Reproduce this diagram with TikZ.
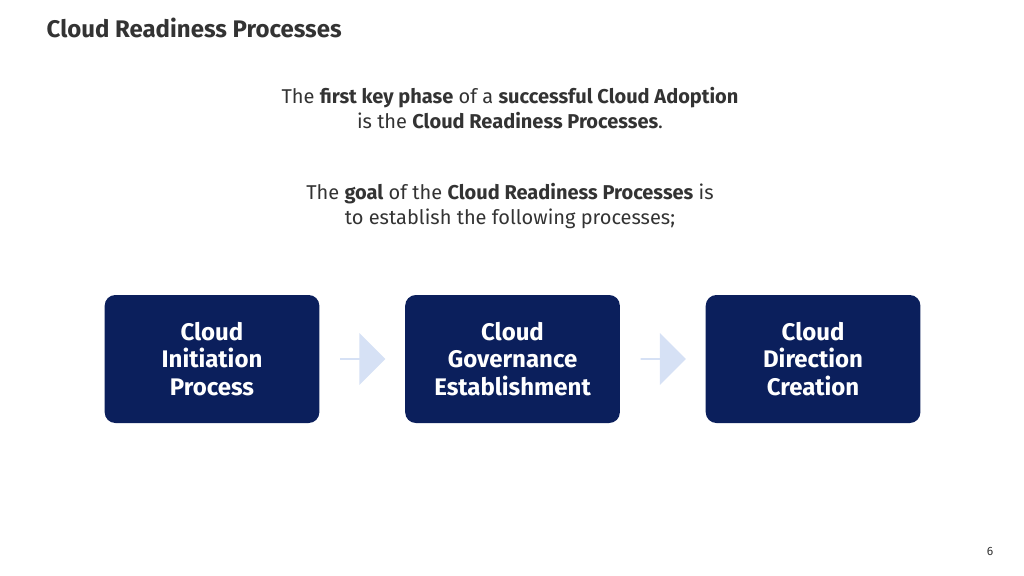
\documentclass[tikz,border=0pt]{standalone}
\usepackage{fontspec}
\setmainfont{Fira Sans}
\usetikzlibrary{shapes,arrows,positioning,calc}
\definecolor{navy}{HTML}{0B1F5C}
\definecolor{paleblue}{HTML}{D6E1F5}
\definecolor{txtgray}{HTML}{333333}
\begin{document}
\begin{tikzpicture}[
    x=0.75pt, y=-0.75pt,
    phase/.style={
        rectangle,
        rounded corners=8pt,
        fill=navy,
        text=white,
        font=\fontsize{18}{20.5}\selectfont\bfseries,
        align=center,
        minimum width=161pt,
        minimum height=96pt
    },
    link/.style={
        single arrow,
        fill=paleblue,
        minimum width=39pt,
        single arrow head extend=6pt,
        minimum height=34pt,
        inner sep=0pt
    },
    node distance=64pt
]
    \useasboundingbox (0,0) rectangle (1024,575);

    % Title and intro text
    \node[anchor=west, text=txtgray, font=\fontsize{18}{22}\selectfont\bfseries] (title) at (42,28) {Cloud Readiness Processes};
    \node[align=center, text=txtgray, font=\fontsize{15}{19}\selectfont] (intro) at (510,108)
        {The \textbf{first key phase} of a \textbf{successful Cloud Adoption}\\is the \textbf{Cloud Readiness Processes}.};
    \node[align=center, text=txtgray, font=\fontsize{15}{19}\selectfont] (goal) at (510,206)
        {The \textbf{goal} of the \textbf{Cloud Readiness Processes} is\\to establish the following processes;};

    % Process steps
    \node[phase] (initiation) at (212,359) {Cloud\\Initiation\\ Process};
    \node[phase, right=of initiation] (governance) {Cloud\\Governance\\Establishment};
    \node[phase, right=of governance] (direction) {Cloud\\Direction\\Creation};

    % Arrows between steps
    \node[link] (arrowa) at ($(initiation.east)!0.5!(governance.west)$) {};
    \node[link] (arrowb) at ($(governance.east)!0.5!(direction.west)$) {};

    % Page number
    \node[text=txtgray, font=\fontsize{9}{11}\selectfont] (page) at (990,551) {6};
\end{tikzpicture}
\end{document}
